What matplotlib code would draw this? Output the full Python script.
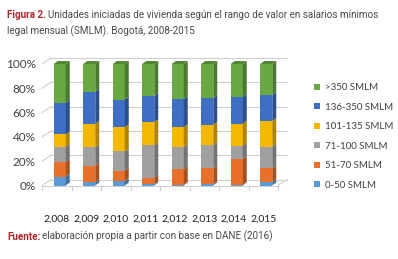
import matplotlib
matplotlib.use("Agg")
import matplotlib.pyplot as plt
from matplotlib.patches import Polygon, Patch
import numpy as np

years = ["2,008", "2,009", "2,010", "2,011", "2,012", "2,013", "2,014", "2,015"]
series_names = ["0-50 SMLM", "51-70 SMLM", "71-100 SMLM", "101-135 SMLM", "136-350 SMLM", ">350 SMLM"]
# shares (%) for each range, per year
s_0_50    = [7.4, 2.5, 3.6, 1.2, 0.5, 1.0, 0.6, 2.8]
s_51_70   = [11.8, 13.9, 8.7, 5.3, 13.1, 13.0, 21.2, 11.2]
s_71_100  = [12.8, 15.1, 15.7, 26.5, 18.1, 19.5, 11.0, 18.0]
s_101_135 = [10.0, 19.2, 20.0, 19.0, 16.3, 16.5, 18.2, 21.0]
s_136_350 = [26.0, 26.3, 22.7, 21.6, 23.0, 22.0, 22.0, 21.5]
s_350     = [32.0, 23.0, 29.3, 26.4, 29.0, 28.0, 27.0, 25.5]
series = [s_0_50, s_51_70, s_71_100, s_101_135, s_136_350, s_350]
colors = ["#5B9BD5", "#E8702A", "#A0A0A0", "#F5B800", "#3F6FC4", "#69A843"]
yticks = [0, 20, 40, 60, 80, 100]
ytick_labels = ["0%", "20%", "40%", "60%", "80%", "100%"]

W, H = 398, 259
fig = plt.figure(figsize=(W / 100, H / 100), dpi=100)

PX_CAT = 29.5
X0 = 56.75
PX_PCT = 1.215
Y0 = 185.5
L, R, T, B = 38, 298, 52, 192
ax = fig.add_axes([L / W, (H - B) / H, (R - L) / W, (B - T) / H])
ax.set_xlim((L - X0) / PX_CAT, (R - X0) / PX_CAT)
ax.set_ylim((Y0 - B) / PX_PCT, (Y0 - T) / PX_PCT)
for s in ax.spines.values():
    s.set_visible(False)

text_col = "#404040"
font = "Lato"

dxw, dyw = 9 / PX_CAT, 6 / PX_PCT
dxb, dyb = 4 / PX_CAT, 3 / PX_PCT
grid_col = "#D0D0D0"
n = len(years)
xl_edge, xr_edge = -0.5, n - 0.5

for p in yticks:
    ax.plot([xl_edge, xl_edge + dxw], [p, p + dyw], color=grid_col, lw=0.8, zorder=1)
    ax.plot([xl_edge + dxw, xr_edge + dxw], [p + dyw, p + dyw], color=grid_col, lw=0.8, zorder=1)
ax.plot([xl_edge, xr_edge], [0, 0], color=grid_col, lw=0.8, zorder=1)
ax.plot([xr_edge, xr_edge + dxw], [0, dyw], color=grid_col, lw=0.8, zorder=1)
for k in range(n + 1):
    ax.plot([xl_edge + k, xl_edge + k], [0, -4 / PX_PCT], color=grid_col, lw=0.8, zorder=1)

def shade(c, f):
    rgb = np.array(matplotlib.colors.to_rgb(c))
    if f < 1:
        return tuple(rgb * f)
    return tuple(rgb + (1 - rgb) * (f - 1))

bw = 12 / PX_CAT
xoff = 3 / PX_CAT
for i in range(n):
    xc = i + xoff
    xl, xr = xc - bw / 2, xc + bw / 2
    bottom = 0.0
    vals = [s[i] for s in series]
    tot = sum(vals)
    vals = [v * 100 / tot for v in vals]
    for j, v in enumerate(vals):
        top = bottom + v
        ax.bar([xc], [v], bottom=[bottom], width=bw, color=colors[j], lw=0, zorder=3)
        ax.add_patch(Polygon([(xr, bottom), (xr + dxb, bottom + dyb), (xr + dxb, top + dyb), (xr, top)],
                             closed=True, facecolor=shade(colors[j], 0.72), lw=0, zorder=3))
        if j == len(vals) - 1:
            ax.add_patch(Polygon([(xl, top), (xl + dxb, top + dyb), (xr + dxb, top + dyb), (xr, top)],
                                 closed=True, facecolor=shade(colors[j], 0.8), lw=0, zorder=3))
        bottom = top

ax.set_yticks(yticks)
ax.set_yticklabels(ytick_labels)
ax.set_xticks(range(n))
ax.set_xticklabels(years)
ax.tick_params(axis="y", length=0, pad=1.5, labelsize=8.5, labelcolor=text_col)
ax.tick_params(axis="x", length=0, pad=16, labelsize=7.5, labelcolor="#202020")
for lab in ax.get_yticklabels() + ax.get_xticklabels():
    lab.set_fontfamily(font)

handles = [Patch(facecolor=colors[j], label=series_names[j]) for j in range(len(series))][::-1]
leg = fig.legend(handles=handles, loc="center left", bbox_to_anchor=(314 / W, 1 - 136.5 / H),
                 frameon=False, handlelength=0.6, handleheight=0.6,
                 handletextpad=0.5, labelspacing=1.08, borderpad=0, borderaxespad=0,
                 prop={"family": font, "size": 7})
for t in leg.get_texts():
    t.set_color(text_col)

title_font = "Roboto"
red = "#B3242E"
gray = "#4A4A4A"

probe = fig.text(0, 0, "Figura 2. Unidades iniciadas de vivienda según el rango de valor en salarios mínimos",
                 fontsize=8, family=title_font)
fig.canvas.draw()
w = probe.get_window_extent().width
probe.remove()
fs = 8 * 372 / w

t1 = fig.text(7 / W, 1 - 15 / H, "Figura 2.", color=red, fontweight="bold", fontsize=fs,
              family=title_font, va="center", ha="left")
fig.canvas.draw()
bb = t1.get_window_extent()
fig.text((bb.x1 + 2) / W, 1 - 15 / H,
         "Unidades iniciadas de vivienda según el rango de valor en salarios mínimos",
         color=gray, fontsize=fs, family=title_font, va="center", ha="left")
fig.text(7 / W, 1 - 31 / H, "legal mensual (SMLM). Bogotá, 2008-2015",
         color=gray, fontsize=fs, family=title_font, va="center", ha="left")

f1 = fig.text(7 / W, 1 - 236.5 / H, "Fuente:", color=red, fontweight="bold", fontsize=fs,
              family=title_font, va="center", ha="left")
fig.canvas.draw()
bb = f1.get_window_extent()
fig.text((bb.x1 + 2) / W, 1 - 236.5 / H, "elaboración propia a partir con base en DANE (2016)",
         color=gray, fontsize=fs, family=title_font, va="center", ha="left")

fig.savefig("out.png", dpi=100)
